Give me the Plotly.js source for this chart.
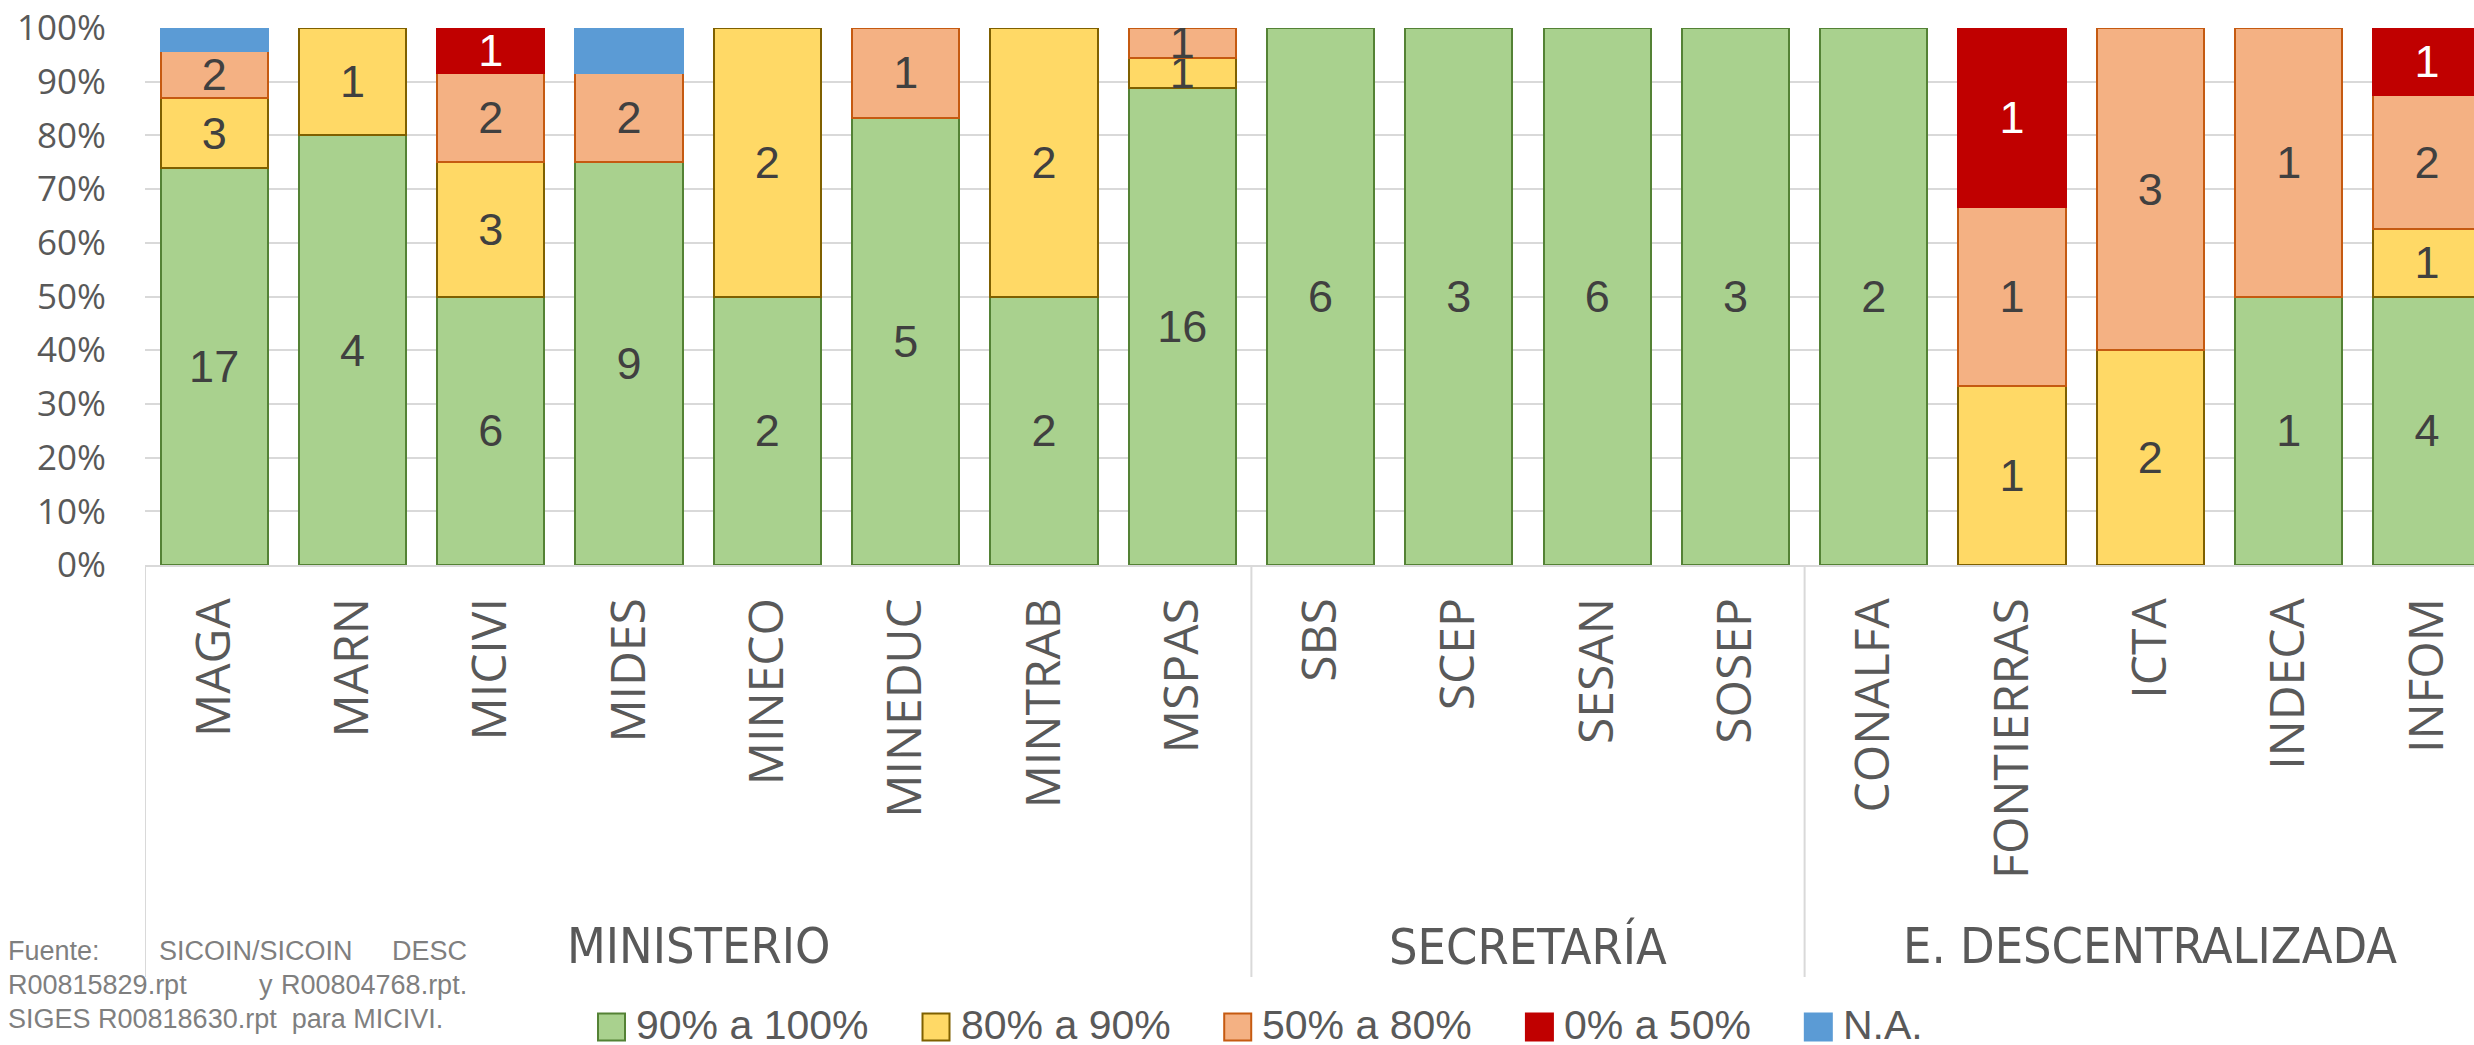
<!DOCTYPE html>
<html>
<head>
<meta charset="utf-8">
<script src="https://cdn.plot.ly/plotly-3.0.1.min.js"></script>
<style>
html,body{margin:0;padding:0;overflow:hidden;background:#ffffff;}
#chart{width:2474px;height:1045px;}
</style>
</head>
<body>
<div id="chart"></div>
<script>
// ---------------- DATA ----------------
const categories = ['MAGA','MARN','MICIVI','MIDES','MINECO','MINEDUC','MINTRAB','MSPAS',
                    'SBS','SCEP','SESAN','SOSEP',
                    'CONALFA','FONTIERRAS','ICTA','INDECA','INFOM'];
const groupNames = ['MINISTERIO','SECRETARÍA','E. DESCENTRALIZADA'];
const groupFirst = [0, 8, 12];
const groupLast  = [7, 11, 16];

const seriesNames = ['90% a 100%','80% a 90%','50% a 80%','0% a 50%','N.A.'];
const v90a100 = [17,4,6,9,2,5,2,16, 6,3,6,3, 2,0,0,1,4];
const v80a90  = [ 3,1,3,0,2,0,2, 1, 0,0,0,0, 0,1,2,0,1];
const v50a80  = [ 2,0,2,2,0,1,0, 1, 0,0,0,0, 0,1,3,1,2];
const v0a50   = [ 0,0,1,0,0,0,0, 0, 0,0,0,0, 0,1,0,0,1];
const vNA     = [ 1,0,0,1,0,0,0, 0, 0,0,0,0, 0,0,0,0,0];
const yTickVals = [0,10,20,30,40,50,60,70,80,90,100];

const footLines = [
  ['Fuente:', 'SICOIN/SICOIN', 'DESC'],
  ['R00815829.rpt', 'y', 'R00804768.rpt.'],
  ['SIGES R00818630.rpt\u00a0\u00a0para MICIVI.']
];

// ---------------- STYLE ----------------
const fills   = ['#a9d18e','#ffd966','#f4b183','#c00000','#5b9bd5'];
const borders = ['#548235','#7f6000','#c55a11','#c00000','#5b9bd5'];
const labelColors = ['#404040','#404040','#404040','#ffffff','#404040'];
const showLabels = [true, true, true, true, false];
const seriesValues = [v90a100, v80a90, v50a80, v0a50, vNA];

const W = 2474, H = 1045;
const ML = 145, MT = 28, MB = 480, MR = 0;
const PW = W - ML - MR, PH = H - MT - MB;
const catStep = 138.3;
const px2paperX = px => (px - ML) / PW;
const py2paperY = py => (MT + PH - py) / PH;

const COND = '"DejaVu Sans Condensed", "Liberation Sans Narrow", sans-serif';
const SANS = '"Liberation Sans", Arial, sans-serif';
const OPEN = '"Open Sans", "Noto Sans", sans-serif';
const GREY = '#595959';

const traces = seriesValues.map((vals, i) => ({
  type: 'bar',
  name: seriesNames[i],
  x: categories,
  y: vals.map(v => v > 0 ? v : null),
  text: vals.map(v => (v > 0 && showLabels[i]) ? String(v) : ''),
  textposition: 'inside',
  insidetextanchor: 'middle',
  textangle: 0,
  constraintext: 'none',
  textfont: {family: SANS, size: 45, color: labelColors[i]},
  marker: {color: fills[i], line: {color: borders[i], width: 2}},
  showlegend: false,
  hoverinfo: 'skip'
}));

const shapes = [];
const annotations = [];

// group dividers below the category axis
const divBottom = py2paperY(977);
groupFirst.forEach(f => {
  shapes.push({type:'line', xref:'x', yref:'paper', x0:f-0.5, x1:f-0.5, y0:0, y1:divBottom,
               line:{color:'#d9d9d9', width:2}, layer:'above'});
});

// group labels, centred on their category span
groupNames.forEach((g, i) => {
  const cx = (groupFirst[i] + groupLast[i]) / 2;
  annotations.push({xref:'x', yref:'paper', x:cx, y:py2paperY(946), text:g, showarrow:false,
                    xanchor:'center', yanchor:'middle',
                    font:{family:COND, size:50, color:GREY}});
});

// custom legend (large square keys)
const cv = document.createElement('canvas').getContext('2d');
cv.font = '41px "Liberation Sans", Arial, sans-serif';
let lx = 598;
const legY = 1025, sq = 27;
seriesNames.forEach((n, i) => {
  shapes.push({type:'rect', xref:'paper', yref:'paper',
               x0:px2paperX(lx), x1:px2paperX(lx+sq), y0:py2paperY(legY+2+sq/2), y1:py2paperY(legY+2-sq/2),
               fillcolor:fills[i], line:{color:borders[i], width:2}});
  annotations.push({xref:'paper', yref:'paper', x:px2paperX(lx+sq+10), y:py2paperY(legY), text:n,
                    showarrow:false, xanchor:'left', yanchor:'middle', borderpad:0,
                    font:{family:SANS, size:41, color:GREY}});
  lx += sq + 12 + cv.measureText(n).width + 53;
});

// source note (justified lines)
const footY = [951, 985, 1019];
const footFont = {family:SANS, size:27, color:'#7f7f7f'};
const footMidX = [158, 258];
footLines.forEach((parts, li) => {
  const y = py2paperY(footY[li]);
  annotations.push({xref:'paper', yref:'paper', x:px2paperX(7), y:y, text:parts[0], showarrow:false,
                    xanchor:'left', yanchor:'middle', borderpad:0, font:footFont});
  if (parts.length === 3) {
    annotations.push({xref:'paper', yref:'paper', x:px2paperX(footMidX[li]), y:y, text:parts[1], showarrow:false,
                      xanchor:'left', yanchor:'middle', borderpad:0, font:footFont});
    annotations.push({xref:'paper', yref:'paper', x:px2paperX(468), y:y, text:parts[2], showarrow:false,
                      xanchor:'right', yanchor:'middle', borderpad:0, font:footFont});
  }
});

const layout = {
  width: W, height: H,
  margin: {l: ML, r: MR, t: MT, b: MB, pad: 0},
  paper_bgcolor: '#ffffff',
  plot_bgcolor: '#ffffff',
  barmode: 'stack',
  barnorm: 'percent',
  bargap: 0.225,
  showlegend: false,
  xaxis: {
    type: 'category',
    range: [-0.5, -0.5 + PW / catStep],
    tickangle: -90,
    tickfont: {family: OPEN, size: 48, color: GREY},
    ticks: '',
    ticklabelstandoff: 12,
    showgrid: false,
    showline: true, linecolor: '#d9d9d9', linewidth: 2,
    zeroline: false,
    fixedrange: true
  },
  yaxis: {
    range: [0, 100],
    tickvals: yTickVals,
    ticktext: yTickVals.map(v => v + '%'),
    tickfont: {family: OPEN, size: 35, color: GREY},
    ticks: '',
    ticklabelstandoff: 38,
    showgrid: true, gridcolor: '#d9d9d9', gridwidth: 2,
    showline: false, zeroline: false,
    fixedrange: true
  },
  shapes: shapes,
  annotations: annotations
};

Plotly.newPlot('chart', traces, layout, {staticPlot: true, displayModeBar: false});
</script>
</body>
</html>
